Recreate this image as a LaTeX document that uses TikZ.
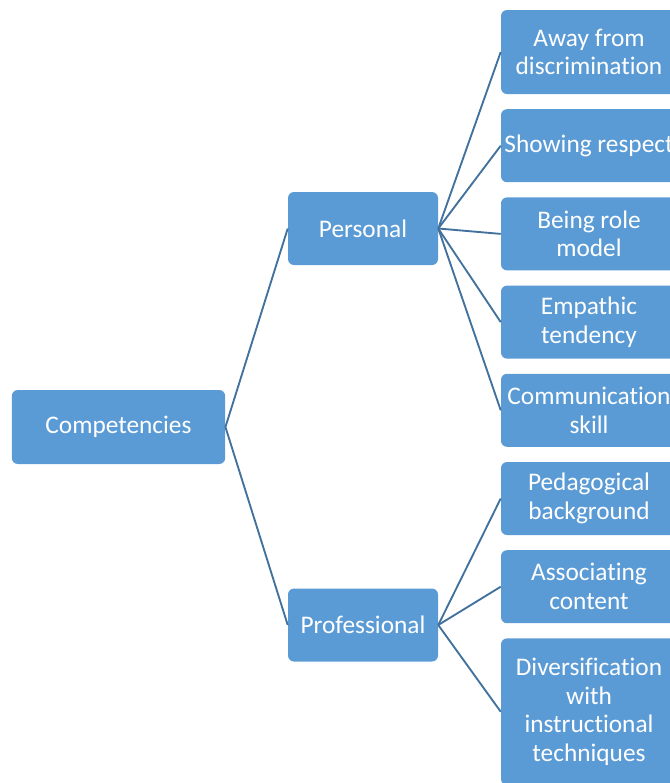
\documentclass[tikz,border=0pt]{standalone}
\usepackage{fontspec}
\setmainfont{Carlito}[Ligatures={NoCommon}]
\usetikzlibrary{positioning}

\definecolor{boxblue}{HTML}{5B9BD5}
\definecolor{lineblue}{HTML}{41719C}

\begin{document}
\begin{tikzpicture}[x=0.75pt, y=-0.75pt, node distance=11pt,
    box/.style={fill=boxblue, rounded corners=4.5pt, text=white, align=center,
        font=\fontsize{19}{21.5}\selectfont, minimum height=54.75pt, inner sep=1pt},
    leaf/.style={box, minimum width=132pt},
    link/.style={draw=lineblue, line width=1.4pt}]
    \useasboundingbox (0,0) rectangle (669,783);

    \node[box, minimum width=160pt, minimum height=55.5pt] (comp) at (118.5,427) {Competencies};
    \node[box, minimum width=112.5pt] (pers) at (363,228.5) {Personal};
    \node[box, minimum width=112.5pt] (prof) at (363,625) {Professional};

    \node[leaf, minimum height=63pt] (away) at (589,52) {Away from\\discrimination};
    \node[leaf] (respect) [below=of away] {Showing respect};
    \node[leaf] (role) [below=of respect] {Being role\\model};
    \node[leaf] (empathic) [below=of role] {Empathic\\tendency};
    \node[leaf] (comm) [below=of empathic] {Communication\\skill};
    \node[leaf] (pedag) [below=of comm] {Pedagogical\\background};
    \node[leaf] (assoc) [below=of pedag] {Associating\\content};
    \node[leaf, minimum height=110pt] (divers) [below=of assoc] {Diversification\\with\\instructional\\techniques};

    \draw[link] (comp.east) -- (pers.west);
    \draw[link] (comp.east) -- (prof.west);
    \foreach \leafname in {away, respect, role, empathic, comm}
        \draw[link] (pers.east) -- (\leafname.west);
    \foreach \leafname in {pedag, assoc, divers}
        \draw[link] (prof.east) -- (\leafname.west);
\end{tikzpicture}
\end{document}
